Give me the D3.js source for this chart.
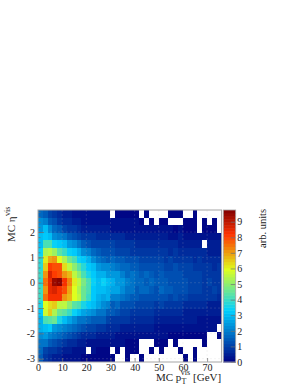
<!DOCTYPE html>
<html>
<head>
<meta charset="utf-8">
<script src="https://cdn.jsdelivr.net/npm/d3@7"></script>
<style>
  html, body { margin: 0; padding: 0; background: #fff; }
  text { font-family: "Liberation Serif", serif; fill: #222; }
</style>
</head>
<body>
<div id="chart"></div>
<script>
// one row per eta bin, top row first, null = empty bin (left white)
const r0  = [1.7,1.4,1.1,.9,.6,.5,.4,.3,.3,.2,.2,.2,.2,.2,.2,null,.15,.15,.15,.1,.1,null,.1,null,null,null,null,.1,.1,.1,null,null,.1,null,null,null,null,null];
const r1  = [2.2,2,1.5,1.2,.9,.7,.6,.5,.4,.3,.3,.3,.3,.25,.25,.2,.2,.2,.2,.2,.2,.15,null,.15,null,.15,.15,null,null,null,.1,.1,.1,null,.1,null,.1,null];
const r2  = [2.4,3,2.2,1.6,1.4,1.1,.9,.8,.6,.5,.5,.45,.4,.4,.4,.35,.35,.3,.3,.3,.25,.25,.25,.2,.2,.2,.2,.2,.15,.2,.15,.15,.15,null,.15,.1,.1,null];
const r3  = [3,3.3,3,2.2,2,1.9,1.5,1.3,1,.9,.8,.8,.7,.7,.7,.7,.6,.6,.55,.5,.45,.45,.45,.5,.4,.4,.4,.35,.35,.4,.35,.3,.3,.3,.3,.25,.25,.25];
const r4  = [3,4.2,4.2,3.4,3.2,3,2.4,2.2,1.8,1.5,1.2,1.1,1,1,1,1.1,.9,.9,.9,.8,.7,.7,.7,.65,.6,.6,.7,.6,.6,.55,.55,.5,.5,.45,null,.4,.4,.4];
const r5  = [3.4,5.4,5.6,5.2,4.3,4,3.4,3.2,2.8,2.3,2,1.7,1.4,1.3,1.2,1.2,1.1,1,1,.95,.9,.9,.85,.85,.8,.9,.8,.7,.8,.75,.7,.7,.65,.6,.6,.55,.5,.5];
const r6  = [3.8,6.2,7,7.2,6,5.4,4.5,4.2,3.4,3.2,2.8,2.3,1.9,1.6,1.5,1.7,1.4,1.4,1.3,1.2,1.2,1.1,1,1.1,1,1,.95,1,.9,.9,.9,.8,.75,.8,.7,.7,.6,.6];
const r7  = [3.8,6.6,8,7.8,7.8,6.3,5.6,5,4.4,3.8,3.2,3,2.5,2.2,2.2,2.1,1.9,1.7,1.6,1.5,1.4,1.3,1.3,1.2,1.3,1.2,1.1,1.1,1.2,1,1,1,.9,.9,.8,.8,.7,.8];
const r8  = [3.9,7.2,8.7,8,7.8,7.2,6.7,5.5,4.9,4.2,3.6,3.2,2.9,2.8,2.5,2.5,2.4,2,1.7,1.8,1.6,1.5,1.6,1.4,1.3,1.5,1.3,1.3,1.2,1.3,1.1,1,1.1,1,.9,.9,.8,.9];
const r9  = [3.8,7.5,8.5,9.4,9.6,8.2,7.4,6.2,5.5,4.8,4.2,3.4,3,3.4,3,2.9,2.5,2.4,2,1.9,1.6,1.7,1.5,1.6,1.4,1.5,1.5,1.3,1.2,1.3,1.2,1.1,1,1,.9,1,.8,.8];
const r10 = [4,7.2,8.4,8.6,8.2,7.8,7,5.9,5.4,4.6,4.1,3.3,3,3,2.9,2.6,2.7,2.3,1.8,1.9,1.5,1.7,1.6,1.4,1.3,1.7,1.5,1.4,1.3,1.2,1.3,1.1,1,1.1,.9,.9,1,.8];
const r11 = [4,7.5,8.2,8.2,8.2,7.2,6.8,6,5.5,4.6,4,3.2,2.8,2.7,2.9,2.1,2,1.9,1.6,1.5,1.5,1.3,1.2,1.3,1.2,1.3,1.2,1.1,1.2,1,1,.9,.9,.9,.8,.8,.8,.7];
const r12 = [3.6,6,6.4,6.6,5.6,5.6,5,4.4,4.2,3.6,3.3,3,2.7,2.2,2,1.5,1.6,1.3,1.2,1.3,1.1,1,1.1,1,.9,1,.9,.8,.8,.8,.7,.7,.6,.6,.6,.5,.5,.5];
const r13 = [3.2,5.8,6.6,5.4,4.5,4.4,3.9,3.4,3,2.7,2.5,2.2,1.9,1.8,1.4,1.5,1.3,1.1,1,.9,.9,.8,.8,.8,.7,.7,.7,.6,.6,.6,.55,.5,.5,.5,.45,.4,.4,.4];
const r14 = [2.8,4.2,4.4,4.6,3.6,3.1,2.6,2.3,1.9,1.8,1.6,1.5,1.4,1.4,1.1,.9,.9,.8,.8,.7,.7,.65,.6,.6,.55,.5,.5,.5,.45,.45,.4,.4,.4,.35,.35,.3,.3,.3];
const r15 = [2.9,3,3.2,2.5,2.3,2,1.8,1.6,1.4,1.3,1.1,1,.9,.8,.7,.6,.6,.55,.5,.5,.45,.45,.4,.4,.35,.35,.35,.3,.3,.3,.3,.25,.25,.25,.2,.2,.2,null];
const r16 = [2.2,2.4,2.1,1.9,1.6,1.4,1.2,1.1,.9,.7,.65,.6,.55,.5,.45,.4,.35,.3,.3,.3,.25,.25,.25,.2,.2,.2,.2,.15,.15,.15,.15,.15,.15,.1,.1,null,null,.1];
const r17 = [1.9,1.8,1.5,1.2,1,.8,.7,.6,.5,.4,.35,.3,.3,.25,.25,.2,.2,.2,.15,.15,.15,null,null,null,.1,.1,.1,null,.1,null,null,null,null,null,.1,null,null,null];
const r18 = [1.6,1,.9,.8,.6,.5,.4,.3,.3,.2,null,.2,.15,.15,.15,null,.1,null,.1,.1,.1,null,null,.1,null,.1,null,null,null,.1,null,null,.1,null,null,null,null,null];
const r19 = [1.4,.8,.7,.5,.4,.3,.3,.2,.2,.15,.15,.15,.1,.1,.1,.1,null,null,.1,null,null,.1,null,null,null,null,null,null,null,null,.1,null,.1,null,null,null,null,null];
const rows = [r0,r1,r2,r3,r4,r5,r6,r7,r8,r9,r10,r11,r12,r13,r14,r15,r16,r17,r18,r19];

const xTicks = [0,10,20,30,40,50,60,70];
const yTicks = [-3,-2,-1,0,1,2];
const zTicks = [0,1,2,3,4,5,6,7,8,9];
// ROOT rainbow palette
const paletteStops  = [0, .34, .61, .84, 1];
const paletteColors = ['rgb(0,0,130)','rgb(0,207,255)','rgb(222,255,31)','rgb(255,51,0)','rgb(130,0,0)'];

const totalWidth = 299, totalHeight = 387;
const margins = {top: 210, right: 77.4, bottom: 25, left: 38};
const mainWidth = totalWidth - margins.left - margins.right,
      mainHeight = totalHeight - margins.top - margins.bottom;
const greyLine = 'rgb(165,165,165)', tickLine = 'rgb(110,110,110)';
const zMax = 9.75, levels = 50;

const svg = d3.select('#chart').append('svg')
  .attr('width', totalWidth)
  .attr('height', totalHeight)
  .style('display', 'block');

//--------------------- Scales ---------------------------------------------
const xScale = d3.scaleLinear().domain([0, 76]).range([0, mainWidth]);
const yScale = d3.scaleLinear().domain([-3.13, 2.87]).range([mainHeight, 0]);
const rowScale = d3.scaleBand().domain(d3.range(rows.length)).range([0, mainHeight]);
const colScale = d3.scaleBand().domain(d3.range(r0.length)).range([0, mainWidth]);
const zScale = d3.scaleLinear().domain([0, zMax]).range([mainHeight, 0]);
const palette = d3.scaleLinear().domain(paletteStops).range(paletteColors);
const levelColor = (i) => palette((i + .5) / levels);
const valueColor = (v) => levelColor(Math.min(levels - 1, Math.floor(v / zMax * levels)));

const main = svg.append('g').attr('transform', 'translate(' + margins.left + ',' + margins.top + ')');

//--------------------- Cells ----------------------------------------------
const cells = [];
rows.forEach((row, r) => row.forEach((v, c) => { if (v !== null) cells.push({r, c, v}); }));
main.append('g').selectAll('rect').data(cells).enter().append('rect')
  .attr('x', d => colScale(d.c))
  .attr('y', d => rowScale(d.r))
  .attr('width', colScale.bandwidth())
  .attr('height', rowScale.bandwidth())
  .attr('fill', d => valueColor(d.v))
  .attr('shape-rendering', 'crispEdges');

//--------------------- Grid -----------------------------------------------
main.append('g').selectAll('line').data(xTicks.slice(1)).enter().append('line')
  .attr('x1', d => xScale(d)).attr('x2', d => xScale(d))
  .attr('y1', 0).attr('y2', mainHeight)
  .attr('stroke', 'rgb(190,190,190)').attr('stroke-opacity', .18).attr('stroke-dasharray', '2,2');
main.append('g').selectAll('line').data(yTicks).enter().append('line')
  .attr('y1', d => yScale(d)).attr('y2', d => yScale(d))
  .attr('x1', 0).attr('x2', mainWidth)
  .attr('stroke', 'rgb(190,190,190)').attr('stroke-opacity', .18).attr('stroke-dasharray', '2,2');

//--------------------- Axis -----------------------------------------------
function styleAxis(g){
  g.select('.domain').remove();
  g.selectAll('line').attr('stroke', tickLine).attr('stroke-width', .7);
  g.selectAll('text').style('font-family', '"Liberation Serif", serif').style('font-size', '10px').attr('fill', '#222');
}
const plainLabel = (d) => String(d);
const xAxis = d3.axisBottom(xScale).tickValues(xTicks).tickSize(-4).tickPadding(1.5).tickFormat(plainLabel);
main.append('g').attr('transform', 'translate(0,' + mainHeight + ')').call(xAxis).call(styleAxis);

const yMinor = d3.axisLeft(yScale).tickValues(d3.range(-3, 2.9, .2)).tickSize(-2.5).tickFormat('');
main.append('g').call(yMinor).call(styleAxis);
const yAxis = d3.axisLeft(yScale).tickValues(yTicks).tickSize(-6).tickPadding(3).tickFormat(plainLabel);
main.append('g').call(yAxis).call(styleAxis);

main.append('rect')
  .attr('width', mainWidth).attr('height', mainHeight)
  .attr('fill', 'none').attr('stroke', greyLine).attr('stroke-width', 1);

//--------------------- Colour bar -----------------------------------------
const barX = 223.3, barWidth = 12.4;
const bar = svg.append('g').attr('transform', 'translate(' + barX + ',' + margins.top + ')');
bar.append('g').selectAll('rect').data(d3.range(levels)).enter().append('rect')
  .attr('x', 0)
  .attr('width', barWidth)
  .attr('y', d => zScale((d + 1) / levels * zMax))
  .attr('height', mainHeight / levels + .5)
  .attr('fill', d => levelColor(d));
const zAxis = d3.axisRight(zScale).tickValues(zTicks).tickSize(-5).tickPadding(1.5).tickFormat(plainLabel);
bar.append('g').attr('transform', 'translate(' + barWidth + ',0)').call(zAxis).call(styleAxis);
bar.append('rect')
  .attr('width', barWidth).attr('height', mainHeight)
  .attr('fill', 'none').attr('stroke', greyLine).attr('stroke-width', .8);

//--------------------- Titles ---------------------------------------------
const xTitle = svg.append('text').attr('x', 156).attr('y', 380.5).style('font-size', '11px');
xTitle.append('tspan').text('MC p');
xTitle.append('tspan').attr('dy', 3).style('font-size', '8px').text('T');
xTitle.append('tspan').attr('dx', -5.5).attr('dy', -9).style('font-size', '8px').text('vis');
xTitle.append('tspan').attr('dx', 3).attr('dy', 6).text('[GeV]');

const yTitle = svg.append('text')
  .attr('transform', 'translate(15,242) rotate(-90)')
  .style('font-size', '11px');
yTitle.append('tspan').text('MC η');
yTitle.append('tspan').attr('dx', .5).attr('dy', -5).style('font-size', '8px').text('vis');

svg.append('text')
  .attr('transform', 'translate(266,248) rotate(-90)')
  .style('font-size', '10.5px')
  .text('arb. units');
</script>
</body>
</html>
